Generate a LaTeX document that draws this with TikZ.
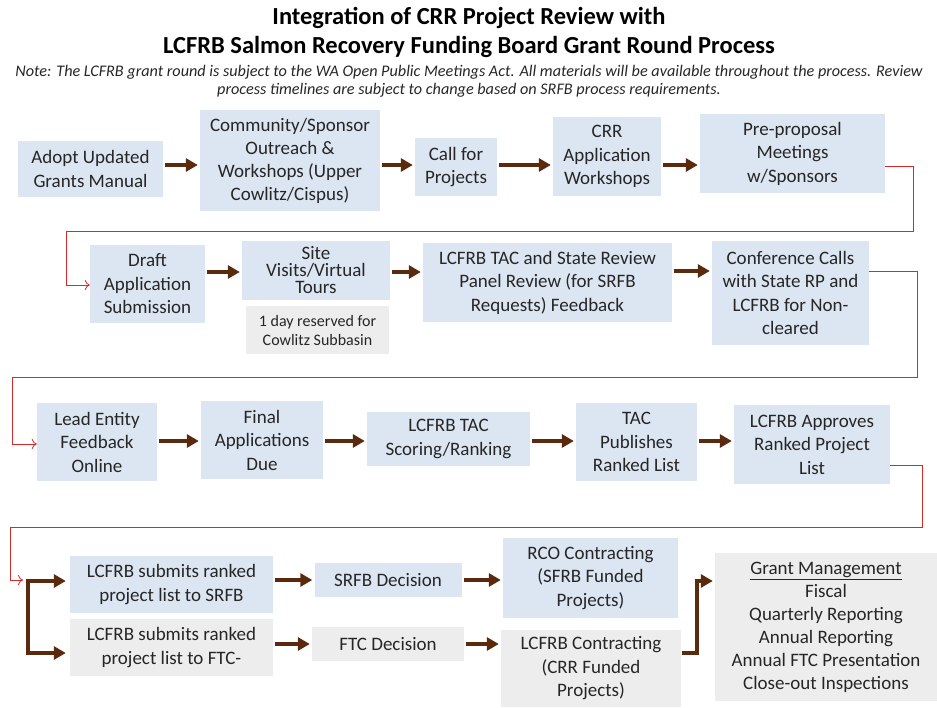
\documentclass[tikz,border=0pt]{standalone}
\usepackage{fontspec}
\setmainfont{Carlito}
\usepackage{tikz}
\usetikzlibrary{arrows.meta}
\usetikzlibrary{positioning}
\definecolor{boxblue}{HTML}{DCE6F2}
\definecolor{boxgrey}{HTML}{EDEDED}
\definecolor{flowbrown}{HTML}{5A2A0E}
\definecolor{linkred}{HTML}{D42A2A}
\definecolor{txt}{HTML}{262626}
\newcommand{\boxfont}{\fontsize{19}{23.5}\selectfont}
\newcommand{\titlefont}{\fontsize{24.5}{29}\selectfont\bfseries}
\newcommand{\notefont}{\fontsize{16.2}{18}\selectfont\itshape}

\begin{document}
\begin{tikzpicture}[x=1pt,y=-1pt,
    blue node/.style={rectangle,fill=boxblue,inner sep=0pt,align=center,text=txt,font=\boxfont},
    grey node/.style={blue node,fill=boxgrey},
    flow/.style={-{Triangle[length=12pt,width=13pt]},line width=3.5pt,draw=flowbrown,shorten >=2pt,shorten <=2pt},
    link/.style={-{To[length=5pt,width=10pt]},line width=0.8pt,draw=linkred}]
   \useasboundingbox (0,0) rectangle (937,707);
   \node[align=center,font=\titlefont] (title) at (469,32.5) {Integration of CRR Project Review with\\LCFRB Salmon Recovery Funding Board Grant Round Process};
   \node[align=center,font=\notefont,text=txt] (note) at (469,81) {Note: The LCFRB grant round is subject to the WA Open Public Meetings Act. All materials will be available throughout the process. Review\\process timelines are subject to change based on SRFB process requirements.};
   % row 1
   \node[blue node,minimum width=145pt,minimum height=56pt] (a1) at (90.5,169) {Adopt Updated\\Grants Manual};
   \node[blue node,minimum width=180pt,minimum height=101pt,font=\fontsize{19}{23}\selectfont] (a2) at (290,160.5) {Community/Sponsor\\Outreach \&\\Workshops (Upper\\Cowlitz/Cispus)};
   \node[blue node,minimum width=82pt,minimum height=58pt] (a3) at (456,167) {Call for\\Projects};
   \node[blue node,minimum width=108pt,minimum height=79pt] (a4) at (607,156.5) {CRR\\Application\\Workshops};
   \node[blue node,minimum width=185pt,minimum height=79pt] (a5) at (792.5,153.5) {Pre-proposal\\Meetings\\w/Sponsors};
   % row 2
   \node[blue node,minimum width=115pt,minimum height=78pt] (b1) at (147.5,284) {Draft\\Application\\Submission};
   \node[blue node,minimum width=148pt,minimum height=59pt,font=\fontsize{19}{17}\selectfont] (b2) at (316,270.5) {Site\\Visits/Virtual\\Tours};
   \node[grey node,minimum width=143pt,minimum height=48pt,font=\fontsize{16}{19}\selectfont] (b2note) at (317.5,330) {1 day reserved for\\Cowlitz Subbasin};
   \node[blue node,minimum width=249pt,minimum height=79pt] (b3) at (547.5,282.5) {LCFRB TAC and State Review\\Panel Review (for SRFB\\Requests) Feedback};
   \node[blue node,minimum width=157pt,minimum height=104pt] (b4) at (790.5,293) {Conference Calls\\with State RP and\\LCFRB for Non-\\cleared};
   % row 3
   \node[blue node,minimum width=120pt,minimum height=78pt] (c1) at (97,442) {Lead Entity\\Feedback\\Online};
   \node[blue node,minimum width=122pt,minimum height=78pt] (c2) at (262,440) {Final\\Applications\\Due};
   \node[blue node,minimum width=163pt,minimum height=54pt] (c3) at (448.5,439) {LCFRB TAC\\Scoring/Ranking};
   \node[blue node,minimum width=121pt,minimum height=78pt] (c4) at (636.5,442) {TAC\\Publishes\\Ranked List};
   \node[blue node,minimum width=156pt,minimum height=79pt] (c5) at (812,444.5) {LCFRB Approves\\Ranked Project\\List};
   % row 4
   \node[blue node,minimum width=203pt,minimum height=57pt] (d1) at (171.5,584.5) {LCFRB submits ranked\\project list to SRFB};
   \node[grey node,minimum width=203pt,minimum height=57pt] (d2) at (171.5,647.5) {LCFRB submits ranked\\project list to FTC-};
   \node[blue node,minimum width=147pt,minimum height=34pt] (d3) at (388,580) {SRFB Decision};
   \node[grey node,minimum width=152pt,minimum height=34pt] (d4) at (388,644) {FTC Decision};
   \node[blue node,minimum width=175pt,minimum height=80pt] (d5) at (590.5,578) {RCO Contracting\\(SFRB Funded\\Projects)};
   \node[grey node,minimum width=180pt,minimum height=77pt] (d6) at (591,668.5) {LCFRB Contracting\\(CRR Funded\\Projects)};
   \node[grey node,minimum width=222pt,minimum height=148pt,font=\fontsize{19}{23}\selectfont] (d7) at (826,627) {\underline{Grant Management}\\Fiscal\\Quarterly Reporting\\Annual Reporting\\Annual FTC Presentation\\Close-out Inspections};
   \coordinate (split) at (23,580);
   \coordinate (fork top) at (28,581);
   \coordinate (fork bot) at (28,653);
   % brown arrows
   \draw[flow] (a1.east |- 0,165) -- (a2.west |- 0,165);
   \draw[flow] (a2.east |- 0,165) -- (a3.west |- 0,165);
   \draw[flow] (a3.east |- 0,165) -- (a4.west |- 0,165);
   \draw[flow] (a4.east |- 0,165) -- (a5.west |- 0,165);
   \draw[flow] (b1.east |- 0,272) -- (b2.west |- 0,272);
   \draw[flow] (b2.east |- 0,272) -- (b3.west |- 0,272);
   \draw[flow] (b3.east |- 0,271) -- (b4.west |- 0,271);
   \draw[flow] (c1.east |- 0,441) -- (c2.west |- 0,441);
   \draw[flow] (c2.east |- 0,441) -- (c3.west |- 0,441);
   \draw[flow] (c3.east |- 0,441) -- (c4.west |- 0,441);
   \draw[flow] (c4.east |- 0,441) -- (c5.west |- 0,441);
   \draw[flow] (d1.east |- 0,580) -- (d3.west |- 0,580);
   \draw[flow] (d3.east |- 0,580) -- (d5.west |- 0,580);
   \draw[flow] (d2.east |- 0,644) -- (d4.west |- 0,644);
   \draw[flow] (d4.east |- 0,644) -- (d6.west |- 0,644);
   \draw[flow,{Triangle[length=12pt,width=13pt]}-{Triangle[length=12pt,width=13pt]},shorten <=4pt,shorten >=4pt] (d1.west |- fork top) -- (fork top) -- (fork bot) -- (d2.west |- fork bot);
   \draw[flow,shorten <=1pt] ([yshift=15.5pt]d6.east) -- (697,653) |- (d7.west |- 0,581);
   % red links between rows
   \draw[link] ([yshift=-12.5pt]a5.east) -| (913,231) -| (66,285) -- (b1.west |- 66,285);
   \draw[link] ([yshift=22pt]b4.east) -| (917,377) -| (12,444) -- (c1.west |- 12,444);
   \draw[link] ([yshift=-20.5pt]c5.east) -| (922,527) -| (10,580) -- (split);
\end{tikzpicture}
\end{document}
